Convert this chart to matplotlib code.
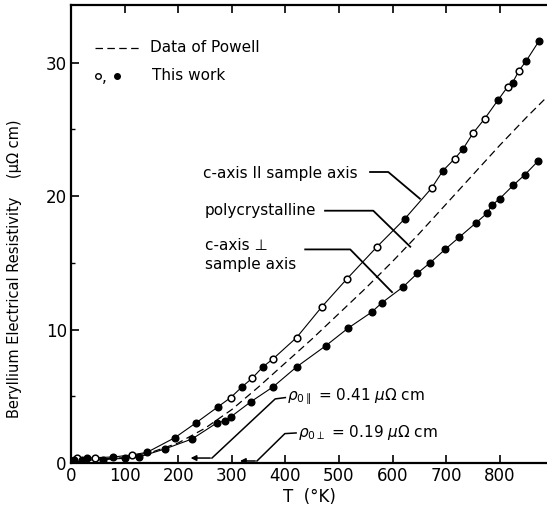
import matplotlib
matplotlib.use("Agg")
import matplotlib.pyplot as plt
import numpy as np

# c-axis parallel to sample axis (upper curve)
par_open_T = [11, 45, 113, 298, 338, 377, 421, 468, 515, 571, 673, 716, 750, 772, 815, 836]
par_open_rho = [0.35, 0.4, 0.6, 4.9, 6.35, 7.8, 9.4, 11.7, 13.8, 16.2, 20.6, 22.8, 24.7, 25.8, 28.2, 29.4]
par_fill_T = [30, 79, 142, 194, 233, 274, 319, 358, 623, 694, 731, 797, 824, 849, 873]
par_fill_rho = [0.35, 0.45, 0.8, 1.9, 3.0, 4.2, 5.7, 7.2, 18.3, 21.9, 23.5, 27.2, 28.5, 30.1, 31.6]

# c-axis perpendicular to sample axis (lower curve)
perp_T = [5, 20, 60, 100, 127, 175, 226, 272, 287, 298, 336, 377, 421, 476, 517, 561,
          580, 620, 646, 670, 698, 724, 756, 776, 785, 800, 825, 847, 871]
perp_rho = [0.2, 0.2, 0.25, 0.35, 0.45, 1.05, 1.8, 3.0, 3.15, 3.45, 4.6, 5.7, 7.2, 8.8, 10.1, 11.3,
            12.0, 13.2, 14.2, 15.0, 16.0, 16.9, 18.0, 18.7, 19.3, 19.8, 20.8, 21.6, 22.6]

# Powell, polycrystalline (dashed)
powell_T = [0, 50, 100, 150, 200, 250, 300, 350, 400, 450, 500, 550, 600, 650, 700, 750, 800, 850, 890]
powell_rho = [0.3, 0.3, 0.4, 0.8, 1.5, 2.6, 4.0, 5.7, 7.5, 9.3, 11.2, 13.1, 15.1, 17.2, 19.4, 21.6, 23.8, 25.9, 27.5]

x_ticks = [0, 100, 200, 300, 400, 500, 600, 700, 800]
y_ticks = [0, 10, 20, 30]

fig = plt.figure(figsize=(5.47, 5.15), dpi=100)
ax = fig.add_axes([0.1298, 0.101, 0.872, 0.889])
ax.set_xlim(0, 890)
ax.set_ylim(0, 34.3)

# solid curves through the measured points
pT = np.array(par_open_T + par_fill_T)
pr = np.array(par_open_rho + par_fill_rho)
o = np.argsort(pT)
ax.plot(pT[o], pr[o], color='black', lw=0.8)
ax.plot(perp_T, perp_rho, color='black', lw=0.8)
ax.plot(powell_T, powell_rho, color='black', lw=0.9, dashes=(6, 3.5))

ax.plot(par_open_T, par_open_rho, 'o', ms=4.8, mfc='white', mec='black', mew=1.1)
ax.plot(par_fill_T, par_fill_rho, 'o', ms=4.8, color='black')
ax.plot(perp_T, perp_rho, 'o', ms=4.8, color='black')

ax.set_xticks(x_ticks)
ax.set_yticks(y_ticks)
ax.set_yticks([5, 15, 25], minor=True)
ax.tick_params(axis='both', direction='in', labelsize=12, width=1.2, length=6)
ax.tick_params(axis='x', top=True, pad=3)
ax.tick_params(axis='y', pad=3)
ax.tick_params(axis='y', which='minor', direction='in', length=3, width=1)
for s in ['left', 'bottom', 'top']:
    ax.spines[s].set_linewidth(1.6)
ax.spines['right'].set_visible(False)

ax.set_xlabel('T  (°K)', fontsize=12, labelpad=2)
fig.text(0.027, 0.478, 'Beryllium Electrical Resistivity    (μΩ cm)', rotation=90,
         ha='center', va='center', fontsize=10.5)

fs = 11
# legend
ax.plot([45, 129], [31.1, 31.1], color='black', lw=0.9, dashes=(6, 3.5))
ax.text(147, 31.1, 'Data of Powell', fontsize=fs, va='center')
ax.plot([50], [29.0], 'o', ms=4, mfc='white', mec='black')
ax.text(58, 28.9, ',', fontsize=fs, va='center')
ax.plot([86], [29.0], 'o', ms=4, color='black')
ax.text(151, 29.0, 'This work', fontsize=fs, va='center')

# curve labels with leaders
ax.text(246, 21.7, 'c-axis II sample axis', fontsize=fs, va='center')
ax.plot([558, 592, 651], [21.8, 21.8, 19.8], color='black', lw=1.3)
ax.text(250, 18.9, 'polycrystalline', fontsize=fs, va='center')
ax.plot([474, 564, 633], [18.9, 18.9, 16.2], color='black', lw=1.3)
ax.text(250, 15.6, 'c-axis ⊥\nsample axis', fontsize=fs, va='center', linespacing=1.35)
ax.plot([437, 521, 599], [16.0, 16.0, 12.8], color='black', lw=1.3)

# residual resistivities
ax.text(403, 4.95, r'$\rho_{0\parallel}$ = 0.41 $\mu\Omega$ cm', fontsize=fs, va='center')
ax.plot([400, 381, 263], [4.9, 4.8, 0.37], color='black', lw=1.1)
ax.annotate('', xy=(218, 0.37), xytext=(265, 0.37),
            arrowprops=dict(arrowstyle='-|>', color='black', lw=1.1, mutation_scale=8))
ax.text(424, 2.25, r'$\rho_{0\perp}$ = 0.19 $\mu\Omega$ cm', fontsize=fs, va='center')
ax.plot([420, 399, 347], [2.25, 2.2, 0.15], color='black', lw=1.1)
ax.annotate('', xy=(310, 0.15), xytext=(349, 0.15),
            arrowprops=dict(arrowstyle='-|>', color='black', lw=1.1, mutation_scale=8))

fig.savefig('out.png', dpi=100)
